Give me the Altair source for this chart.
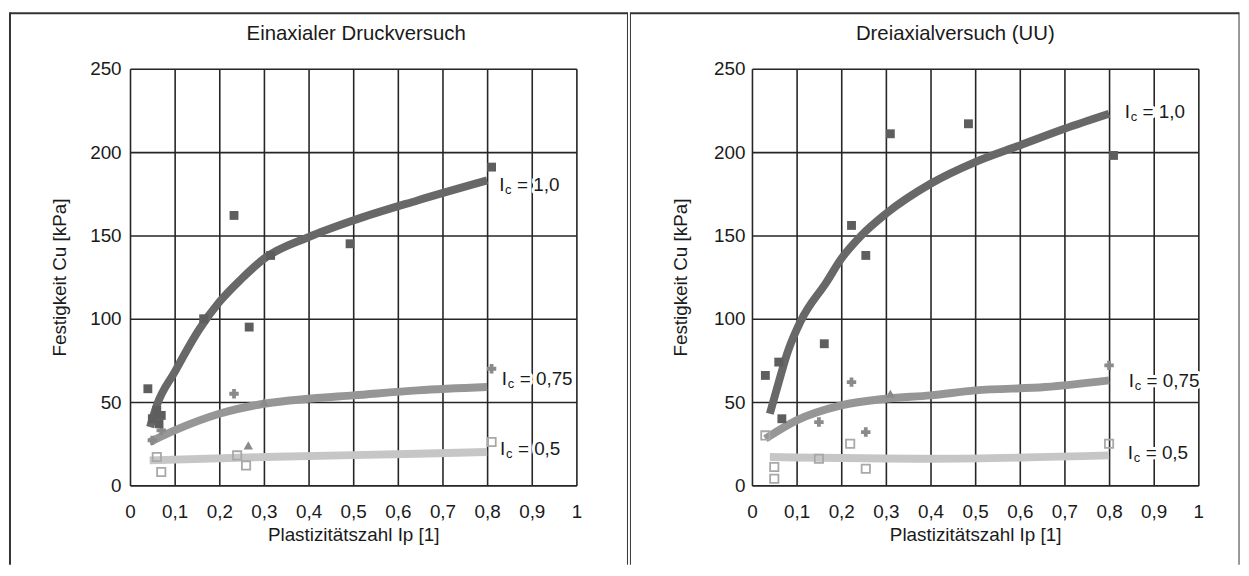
import altair as alt
import pandas as pd

# ---------------- data ----------------
series_names = ["Ic = 0,5", "Ic = 0,75", "Ic = 1,0"]

# Left panel: Einaxialer Druckversuch
L_c10_x = [0.045, 0.06, 0.1, 0.156, 0.2, 0.25, 0.3, 0.4, 0.5, 0.644, 0.8]
L_c10_y = [35, 48, 68, 94, 110, 124, 136, 149, 159, 171, 183]
L_c075_x = [0.044, 0.1, 0.2, 0.3, 0.4, 0.5, 0.644, 0.8]
L_c075_y = [26, 33, 43, 49, 52, 54, 57, 59]
L_c05_x = [0.044, 0.3, 0.644, 0.8]
L_c05_y = [15, 17, 19, 20]

L_p10_x = [0.04, 0.05, 0.06, 0.065, 0.07, 0.165, 0.233, 0.267, 0.315, 0.493, 0.81]
L_p10_y = [58, 40, 45, 37, 42, 100, 162, 95, 138, 145, 191]
L_p075_x = [0.05, 0.07, 0.233, 0.81, 0.265, 0.3]
L_p075_y = [27, 33, 55, 70, 24, 50]
L_p075_s = ["cross", "cross", "cross", "cross", "triangle-up", "triangle-up"]
L_p05_x = [0.06, 0.07, 0.24, 0.26, 0.81]
L_p05_y = [17, 8, 18, 12, 26]

# Right panel: Dreiaxialversuch (UU)
R_c10_x = [0.04, 0.06, 0.08, 0.11, 0.167, 0.2, 0.245, 0.3, 0.4, 0.5, 0.6, 0.7, 0.8]
R_c10_y = [43, 62, 80, 99, 122, 136, 150, 163, 181, 194, 204, 214, 223]
R_c075_x = [0.03, 0.1, 0.2, 0.3, 0.4, 0.5, 0.657, 0.8]
R_c075_y = [28, 39, 48, 52, 54, 57, 59, 63]
R_c05_x = [0.04, 0.4, 0.8]
R_c05_y = [17, 16, 18]

R_p10_x = [0.03, 0.06, 0.067, 0.162, 0.223, 0.255, 0.31, 0.485, 0.81]
R_p10_y = [66, 74, 40, 85, 156, 138, 211, 217, 198]
R_p075_x = [0.15, 0.223, 0.255, 0.8, 0.31]
R_p075_y = [38, 62, 32, 72, 55]
R_p075_s = ["cross", "cross", "cross", "cross", "triangle-up"]
R_p05_x = [0.03, 0.05, 0.05, 0.15, 0.22, 0.255, 0.8]
R_p05_y = [30, 4, 11, 16, 25, 10, 25]

# label anchors (data coords)
L_lab_x = [0.827, 0.833, 0.829]
L_lab_y = [180, 64, 22]
R_lab_x = [0.835, 0.844, 0.842]
R_lab_y = [224, 62.5, 19.6]
lab_text = ["= 1,0", "= 0,75", "= 0,5"]

x_ticks = [0, 0.1, 0.2, 0.3, 0.4, 0.5, 0.6, 0.7, 0.8, 0.9, 1]
y_ticks = [0, 50, 100, 150, 200, 250]

FONT = "Liberation Sans"
TXT = "#1a1a1a"
GRID = "#262626"
line_colors = ["#c6c6c6", "#969696", "#686868"]
line_widths = [8, 8, 6]
FS = 19


def curves(xs_list, ys_list):
    rows = []
    for name, xs, ys in zip(series_names, xs_list, ys_list):
        for x, y in zip(xs, ys):
            rows.append({"x": x, "y": y, "series": name})
    return pd.DataFrame(rows)


def panel(title, c_x, c_y, p10, p075, p05, lab_x, lab_y, ylab_pad, ytitle_pad,
          title_x, right_edge, left_frame_x):
    xscale = alt.Scale(domain=[0, 1], nice=False, zero=False)
    yscale = alt.Scale(domain=[0, 250], nice=False)
    xaxis = alt.Axis(values=x_ticks, grid=True, ticks=False, domain=False,
                     labelExpr="replace(format(datum.value, '.1~f'), '.', ',')",
                     labelFontSize=FS, labelColor=TXT, labelFont=FONT,
                     labelPadding=17, title="Plastizitätszahl Ip [1]",
                     titleFontSize=FS, titleFontWeight="normal", titleColor=TXT,
                     titleFont=FONT, titlePadding=5, gridColor=GRID,
                     gridWidth=1.6, gridOpacity=1, labelFlush=False)
    yaxis = alt.Axis(values=y_ticks, grid=True, ticks=False, domain=False,
                     labelFontSize=FS, labelColor=TXT, labelFont=FONT,
                     labelPadding=ylab_pad, title="Festigkeit Cu [kPa]",
                     titleFontSize=FS, titleFontWeight="normal", titleColor=TXT,
                     titleFont=FONT, titlePadding=ytitle_pad, gridColor=GRID,
                     gridWidth=1.6, gridOpacity=1, labelFlush=False)

    cdf = curves(c_x, c_y)
    lines = alt.Chart(cdf).mark_line(interpolate="monotone", strokeCap="butt").encode(
        x=alt.X("x:Q", scale=xscale, axis=xaxis),
        y=alt.Y("y:Q", scale=yscale, axis=yaxis),
        color=alt.Color("series:N", scale=alt.Scale(domain=series_names, range=line_colors), legend=None),
        strokeWidth=alt.StrokeWidth("series:N", scale=alt.Scale(domain=series_names, range=line_widths), legend=None),
        order=alt.Order("x:Q"),
    )

    d10 = pd.DataFrame({"x": p10[0], "y": p10[1]})
    d075 = pd.DataFrame({"x": p075[0], "y": p075[1], "s": p075[2]})
    d05 = pd.DataFrame({"x": p05[0], "y": p05[1]})

    pts10 = alt.Chart(d10).mark_point(shape="square", filled=True, size=80,
                                       color="#5e5e5e", opacity=1).encode(
        x=alt.X("x:Q", scale=xscale), y=alt.Y("y:Q", scale=yscale))
    pts075 = alt.Chart(d075).mark_point(filled=True, size=90, color="#8a8a8a",
                                         opacity=1).encode(
        x=alt.X("x:Q", scale=xscale), y=alt.Y("y:Q", scale=yscale),
        shape=alt.Shape("s:N", scale=None, legend=None))
    pts05 = alt.Chart(d05).mark_point(shape="square", filled=False, size=70,
                                       color="#a8a8a8", strokeWidth=1.8, opacity=1).encode(
        x=alt.X("x:Q", scale=xscale), y=alt.Y("y:Q", scale=yscale))

    ldf = pd.DataFrame({"x": lab_x, "y": lab_y, "t": lab_text})
    layers_lab = []
    for halo in (True, False):
        extra = dict(stroke="white", strokeWidth=6, strokeJoin="round") if halo else {}
        base = alt.Chart(ldf)
        enc = dict(x=alt.X("x:Q", scale=xscale), y=alt.Y("y:Q", scale=yscale))
        layers_lab.append(base.mark_text(text="I", align="left", baseline="middle",
                                         fontSize=FS, font=FONT, color=TXT, **extra).encode(**enc))
        layers_lab.append(base.mark_text(text="c", align="left", baseline="middle",
                                         dx=6, dy=5, fontSize=13, font=FONT, color=TXT, **extra).encode(**enc))
        layers_lab.append(base.mark_text(align="left", baseline="middle", dx=18,
                                         fontSize=FS, font=FONT, color=TXT, **extra).encode(
            text="t:N", **enc))

    one = pd.DataFrame({"a": [0]})
    ttl = alt.Chart(one).mark_text(text=title, align="center", baseline="middle",
                                   fontSize=20.5, font=FONT, color=TXT).encode(
        x=alt.value(title_x), y=alt.value(-35))

    fr = alt.Chart(one).mark_rule(color="#333333", strokeWidth=2)
    frames = [
        fr.encode(x=alt.value(left_frame_x), x2=alt.value(right_edge), y=alt.value(-56)),
    ]
    if left_frame_x < -121.9:
        frames.append(alt.Chart(one).mark_rule(color="#333333", strokeWidth=1).encode(
            x=alt.value(left_frame_x), y=alt.value(-57), y2=alt.value(500)))
    else:
        frames.append(fr.encode(x=alt.value(left_frame_x), y=alt.value(-57), y2=alt.value(500)))
    frames.append(alt.Chart(one).mark_rule(color="#333333",
                                           strokeWidth=1 if right_edge < 502 else 1.5).encode(
        x=alt.value(right_edge), y=alt.value(-57), y2=alt.value(500)))

    return alt.layer(lines, pts05, pts075, pts10, *layers_lab, ttl, *frames).properties(
        width=450, height=420)


left = panel("Einaxialer Druckversuch",
             [L_c05_x, L_c075_x, L_c10_x], [L_c05_y, L_c075_y, L_c10_y],
             (L_p10_x, L_p10_y), (L_p075_x, L_p075_y, L_p075_s), (L_p05_x, L_p05_y),
             L_lab_x, L_lab_y, 9, 20, 228, 501.5, -121)
right = panel("Dreiaxialversuch (UU)",
              [R_c05_x, R_c075_x, R_c10_x], [R_c05_y, R_c075_y, R_c10_y],
              (R_p10_x, R_p10_y), (R_p075_x, R_p075_y, R_p075_s), (R_p05_x, R_p05_y),
              R_lab_x, R_lab_y, 7, 23, 205, 491, -122.5)

chart = alt.hconcat(left, right, spacing=0).properties(
    padding=0, background="white"
).configure_view(stroke=GRID, strokeWidth=1.6).configure(font=FONT)

chart.save("out.html", embed_options={"renderer": "svg", "actions": False})
